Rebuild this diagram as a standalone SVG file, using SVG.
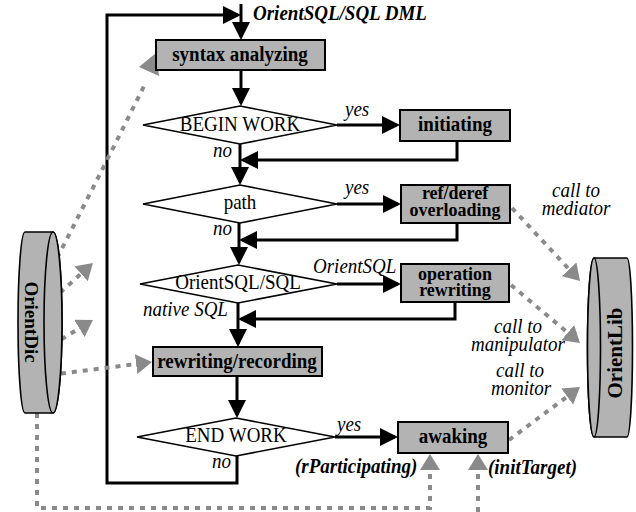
<svg xmlns="http://www.w3.org/2000/svg" width="636" height="512" viewBox="0 0 636 512">
<style>
text{font-family:"Liberation Serif","Times New Roman",serif;font-size:19px;fill:#000}
.b{font-weight:bold}
.i{font-style:italic}
.bi{font-weight:bold;font-style:italic}
.m{text-anchor:middle}
.s{font-size:18px}
.box{fill:#b3b3b3;stroke:#000;stroke-width:2}
.dia{fill:#fff;stroke:#000;stroke-width:1.6}
.cyl{fill:#b3b3b3;stroke:#000;stroke-width:1.6}
.flow{fill:none;stroke:#000;stroke-width:3}
.dash{fill:none;stroke:#8a8a8a;stroke-width:4;stroke-dasharray:5 6}
</style>
<defs>
<marker id="ah" markerUnits="userSpaceOnUse" markerWidth="18" markerHeight="18" refX="15" refY="9" orient="auto" viewBox="0 0 18 18">
<path d="M0,0 L18,9 L0,18 z" fill="#000"/>
</marker>
<marker id="gh" markerUnits="userSpaceOnUse" markerWidth="16" markerHeight="20" refX="12" refY="10" orient="auto" viewBox="0 0 16 20">
<path d="M0,0 L16,10 L0,20 z" fill="#8a8a8a"/>
</marker>
</defs>

<g id="connectors">
<path class="flow" d="M241,4 L241,37" marker-end="url(#ah)"/>
<path class="flow" d="M237,456 L237,483 L107,483 L107,15 L238,15" marker-end="url(#ah)"/>
<path class="flow" d="M241,70 L241,103" marker-end="url(#ah)"/>
<path class="flow" d="M240,144 L240,182" marker-end="url(#ah)"/>
<path class="flow" d="M239,223 L239,262" marker-end="url(#ah)"/>
<path class="flow" d="M238,303 L238,344" marker-end="url(#ah)"/>
<path class="flow" d="M237,376 L237,415" marker-end="url(#ah)"/>
<path class="flow" d="M337,125 L397,125" marker-end="url(#ah)"/>
<path class="flow" d="M337,204 L398,204" marker-end="url(#ah)"/>
<path class="flow" d="M337,284 L398,284" marker-end="url(#ah)"/>
<path class="flow" d="M335,437 L395,437" marker-end="url(#ah)"/>
<path class="flow" d="M457,141 L457,160 L243,160" marker-end="url(#ah)"/>
<path class="flow" d="M457,223 L457,240 L242,240" marker-end="url(#ah)"/>
<path class="flow" d="M455,302 L455,319 L241,319" marker-end="url(#ah)"/>
<path class="dash" d="M57,258 Q105,165 146,82"/>
<polygon points="139,67 156,53 159,76" fill="#8a8a8a"/>
<path class="dash" d="M52,300 L90,265.7" marker-end="url(#gh)"/>
<path class="dash" d="M52,345 L89.6,322.1" marker-end="url(#gh)"/>
<path class="dash" d="M50,375 L148,362.5" marker-end="url(#gh)"/>
<path class="dash" d="M37,413 L37,508 L430,508 L430,458" marker-end="url(#gh)"/>
<path class="dash" d="M478,512 L478,458" marker-end="url(#gh)"/>
<path class="dash" d="M512,208 L577.3,278.1" marker-end="url(#gh)"/>
<path class="dash" d="M511,285 L576.9,340.4" marker-end="url(#gh)"/>
<path class="dash" d="M509,440 L576.8,389.4" marker-end="url(#gh)"/>
</g>

<g id="labels">
<text class="bi" transform="translate(253,20) scale(1,1.15)">OrientSQL/SQL DML</text>
<text class="i" transform="translate(345,116) scale(1,1.15)">yes</text>
<text class="i" transform="translate(213,157) scale(1,1.15)">no</text>
<text class="i" transform="translate(345,194) scale(1,1.15)">yes</text>
<text class="i" transform="translate(213,235) scale(1,1.15)">no</text>
<text class="i" transform="translate(313,273) scale(1,1.15)">OrientSQL</text>
<text class="i" transform="translate(143,316) scale(1,1.15)">native SQL</text>
<text class="i" transform="translate(337,431) scale(1,1.15)">yes</text>
<text class="i" transform="translate(212,468) scale(1,1.15)">no</text>
<text class="bi" transform="translate(295,473) scale(1,1.15)">(rParticipating)</text>
<text class="bi" transform="translate(488,474) scale(1,1.15)">(initTarget)</text>
<text class="i m" transform="translate(576,197) scale(1,1.1)">call to</text>
<text class="i m" transform="translate(576,215) scale(1,1.1)">mediator</text>
<text class="i m" transform="translate(518,333) scale(1,1.1)">call to</text>
<text class="i m" transform="translate(518,351) scale(1,1.1)">manipulator</text>
<text class="i m" transform="translate(520,377) scale(1,1.1)">call to</text>
<text class="i m" transform="translate(521,395) scale(1,1.1)">monitor</text>
</g>

<g id="syntax">
<rect class="box" x="156" y="40" width="169" height="30"/>
<text class="b m" transform="translate(240,61) scale(1,1.15)">syntax analyzing</text>
</g>
<g id="beginwork">
<polygon class="dia" points="143,125 240,106 337,125 240,144"/>
<text class="m" transform="translate(240,131) scale(1,1.15)">BEGIN WORK</text>
</g>
<g id="initiating">
<rect class="box" x="400" y="110" width="110" height="31"/>
<text class="b m" transform="translate(455,131) scale(1,1.15)">initiating</text>
</g>
<g id="path">
<polygon class="dia" points="143,204 240,185 337,204 240,223"/>
<text class="m" transform="translate(240,209) scale(1,1.15)">path</text>
</g>
<g id="refderef">
<rect class="box" x="401" y="185" width="109" height="38"/>
<text class="b m s" transform="translate(455,199) scale(1,1.1)">ref/deref</text>
<text class="b m s" transform="translate(455,216) scale(1,1.1)">overloading</text>
</g>
<g id="orientsql">
<polygon class="dia" points="140,284 238,265 337,284 238,303"/>
<text class="m" transform="translate(238,289) scale(1,1.15)">OrientSQL/SQL</text>
</g>
<g id="operation">
<rect class="box" x="401" y="264" width="108" height="38"/>
<text class="b m s" transform="translate(455,280) scale(1,1.1)">operation</text>
<text class="b m s" transform="translate(455,296) scale(1,1.1)">rewriting</text>
</g>
<g id="rewriting">
<rect class="box" x="153" y="347" width="169" height="29"/>
<text class="b m" transform="translate(237,368) scale(1,1.15)">rewriting/recording</text>
</g>
<g id="endwork">
<polygon class="dia" points="137,437 236,418 335,437 236,456"/>
<text class="m" transform="translate(236,442) scale(1,1.15)">END WORK</text>
</g>
<g id="awaking">
<rect class="box" x="398" y="422" width="110" height="31"/>
<text class="b m" transform="translate(453,443) scale(1,1.15)">awaking</text>
</g>
<g id="orientdic">
<path class="cyl" d="M25,232 L53,232 A9,90.5 0 0 1 53,413 L25,413 A7,90.5 0 0 1 25,232 Z"/>
<ellipse class="cyl" cx="53" cy="322.5" rx="9" ry="90.5"/>
<text class="b m" transform="translate(31,322) rotate(90)" x="0" y="6.5">OrientDic</text>
</g>
<g id="orientlib">
<path class="cyl" d="M594,258 L627,258 A5.5,89.5 0 0 1 627,437 L594,437 A6.5,89.5 0 0 1 594,258 Z"/>
<ellipse class="cyl" cx="594" cy="347.5" rx="6.5" ry="89.5"/>
<text class="b m" style="font-size:21px" transform="translate(615,353) rotate(-90)" x="0" y="7">OrientLib</text>
</g>
</svg>
